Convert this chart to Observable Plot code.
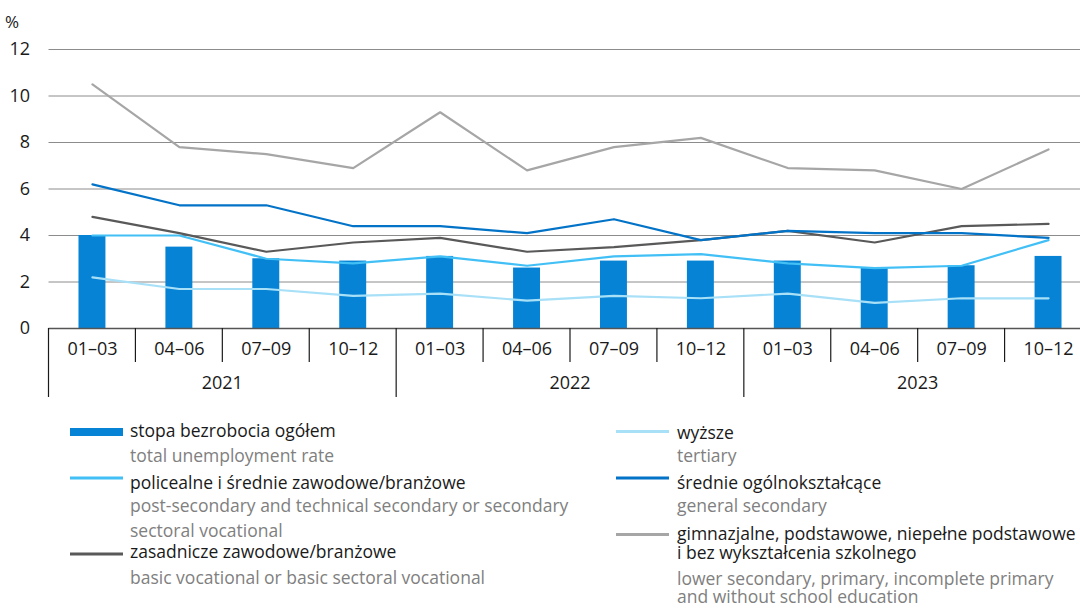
<!DOCTYPE html>
<html>
<head>
<meta charset="utf-8">
<script src="https://cdn.jsdelivr.net/npm/d3@7"></script>
<script src="https://cdn.jsdelivr.net/npm/@observablehq/plot@0.6"></script>
<style>
  html, body { margin: 0; padding: 0; background: #fff; overflow: hidden; }
  #wrap { position: relative; width: 1080px; height: 612px; overflow: hidden; }
  svg { display: block; }
</style>
</head>
<body>
<div id="wrap"></div>
<script>
// ---- data ----
const years = ["2021", "2022", "2023"];
const quarters = ["01–03", "04–06", "07–09", "10–12"];
const yTicks = [0, 2, 4, 6, 8, 10, 12];

const total        = [4.0, 3.5, 3.0, 2.9, 3.1, 2.6, 2.9, 2.9, 2.9, 2.6, 2.7, 3.1];
const tertiary     = [2.2, 1.7, 1.7, 1.4, 1.5, 1.2, 1.4, 1.3, 1.5, 1.1, 1.3, 1.3];
const postSecVoc   = [4.0, 4.0, 3.0, 2.8, 3.1, 2.7, 3.1, 3.2, 2.8, 2.6, 2.7, 3.8];
const generalSec   = [6.2, 5.3, 5.3, 4.4, 4.4, 4.1, 4.7, 3.8, 4.2, 4.1, 4.1, 3.9];
const basicVoc     = [4.8, 4.1, 3.3, 3.7, 3.9, 3.3, 3.5, 3.8, 4.2, 3.7, 4.4, 4.5];
const lowerSec     = [10.5, 7.8, 7.5, 6.9, 9.3, 6.8, 7.8, 8.2, 6.9, 6.8, 6.0, 7.7];

const legendItems = [
  {kind: "bar",  color: "#0783d5", pl: ["stopa bezrobocia ogółem"], en: ["total unemployment rate"]},
  {kind: "line", color: "#42c0f6", pl: ["policealne i średnie zawodowe/branżowe"], en: ["post-secondary and technical secondary or secondary", "sectoral vocational"]},
  {kind: "line", color: "#595959", pl: ["zasadnicze zawodowe/branżowe"], en: ["basic vocational or basic sectoral vocational"]},
  {kind: "line", color: "#a8e0f8", pl: ["wyższe"], en: ["tertiary"]},
  {kind: "line", color: "#0373c8", pl: ["średnie ogólnokształcące"], en: ["general secondary"]},
  {kind: "line", color: "#a6a6a6", pl: ["gimnazjalne, podstawowe, niepełne podstawowe", "i bez wykształcenia szkolnego"], en: ["lower secondary, primary, incomplete primary", "and without school education"]}
];

// ---- build table ----
const keys = [];
years.forEach(y => quarters.forEach(q => keys.push(y + " " + q)));
const rows = keys.map((k, i) => ({key: k, total: total[i]}));
const seriesDefs = [
  {values: tertiary,   color: "#a8e0f8"},
  {values: postSecVoc, color: "#42c0f6"},
  {values: basicVoc,   color: "#595959"},
  {values: generalSec, color: "#0373c8"},
  {values: lowerSec,   color: "#a6a6a6"}
];

const FONT = "'Open Sans', sans-serif";
const W = 1080, H = 410;
const mL = 48.5;

const plot = Plot.plot({
  width: W, height: H,
  marginTop: 49, marginBottom: 82, marginLeft: mL, marginRight: 0,
  style: {fontFamily: FONT, fontSize: "18px", color: "#1a1a1a", background: "white", overflow: "visible"},
  x: {domain: keys, range: [mL, 1091.5], round: false, paddingInner: 0.69, paddingOuter: 0.345, label: null},
  y: {domain: [0, 12], label: null},
  marks: [
    Plot.gridY(yTicks.filter(d => d > 0), {stroke: "#8c8c8c", strokeOpacity: 1, strokeWidth: 1}),
    Plot.axisY(yTicks, {tickSize: 0, tickPadding: 19, fontSize: 18, label: null}),
    Plot.barY(rows, {x: "key", y: "total", fill: "#0783d5"}),
    Plot.ruleY([0], {stroke: "#555", strokeWidth: 1.3}),
    ...seriesDefs.map(s => Plot.line(keys.map((k, i) => ({key: k, v: s.values[i]})), {x: "key", y: "v", stroke: s.color, strokeWidth: 2.2})),
    Plot.axisX({tickSize: 0, tickPadding: 14, fontSize: 18, tickFormat: d => d.split(" ")[1], label: null})
  ]
});
document.getElementById("wrap").appendChild(plot);

// separators and year labels derived from the x scale
const xs = plot.scale("x");
const ys = plot.scale("y");
const step = xs.step, bw = xs.bandwidth;
const bounds = keys.map(k => xs.apply(k) - (step - bw) / 2);
bounds.push(bounds[bounds.length - 1] + step);
const y0 = ys.apply(0);
const svg = d3.select(plot);
const g = svg.append("g").attr("stroke", "#1a1a1a").attr("stroke-width", 1.2);
bounds.forEach((b, i) => {
  const isYear = i % quarters.length === 0;
  g.append("line").attr("x1", b).attr("x2", b).attr("y1", y0).attr("y2", isYear ? 397 : 362);
});
years.forEach((yr, j) => {
  const cx = (bounds[j * 4] + bounds[j * 4 + 4]) / 2;
  svg.append("text").attr("x", cx).attr("y", 383).attr("dy", "0.35em")
    .attr("text-anchor", "middle").attr("font-family", FONT).attr("font-size", 18).attr("fill", "#1a1a1a").text(yr);
});
svg.append("text").attr("x", 12).attr("y", 22).attr("dy", "0.35em")
  .attr("font-family", FONT).attr("font-size", 17).attr("fill", "#1a1a1a").text("%");

// ---- legend ----
const leg = d3.select("#wrap").append("svg").attr("width", W).attr("height", 612 - H)
  .style("font-family", FONT).style("font-size", "17.5px");
const off = H;
const layout = [
  {sx: 70, tx: 130, swY: 432, pl: [437], en: [462]},
  {sx: 70, tx: 130, swY: 478, pl: [488.5], en: [512, 537]},
  {sx: 70, tx: 130, swY: 554, pl: [558], en: [583.5]},
  {sx: 616, tx: 677, swY: 431.5, pl: [438.5], en: [462]},
  {sx: 616, tx: 677, swY: 478, pl: [489], en: [512]},
  {sx: 616, tx: 677, swY: 534.5, pl: [540, 558.5], en: [584.5, 603]}
];
legendItems.forEach((it, i) => {
  const L = layout[i];
  if (it.kind === "bar") {
    leg.append("rect").attr("x", L.sx).attr("y", L.swY - 4 - off).attr("width", 53).attr("height", 8).attr("fill", it.color);
  } else {
    leg.append("line").attr("x1", L.sx).attr("x2", L.sx + 53).attr("y1", L.swY - off).attr("y2", L.swY - off)
      .attr("stroke", it.color).attr("stroke-width", 3);
  }
  it.pl.forEach((t, j) => leg.append("text").attr("x", L.tx).attr("y", L.pl[j] - off).attr("fill", "#1a1a1a").text(t));
  it.en.forEach((t, j) => leg.append("text").attr("x", L.tx).attr("y", L.en[j] - off).attr("fill", "#808080").text(t));
});
</script>
</body>
</html>
